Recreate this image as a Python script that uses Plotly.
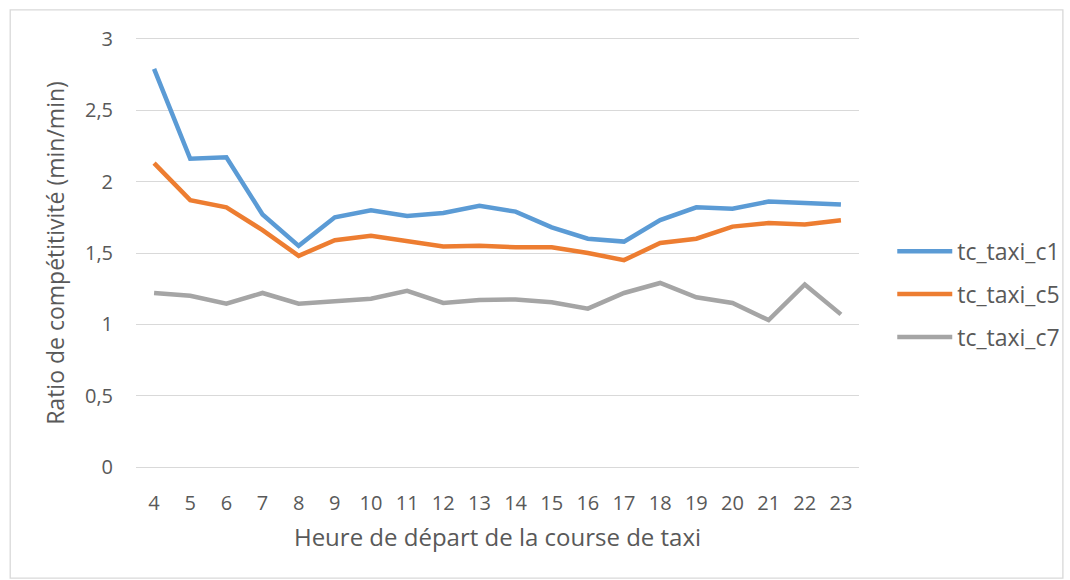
import plotly.graph_objects as go

hours = [str(h) for h in range(4, 24)]

tc_taxi_c1 = [2.79, 2.16, 2.17, 1.77, 1.55, 1.75, 1.80, 1.76, 1.78, 1.83,
              1.79, 1.68, 1.60, 1.58, 1.73, 1.82, 1.81, 1.86, 1.85, 1.84]
tc_taxi_c5 = [2.13, 1.87, 1.82, 1.66, 1.48, 1.59, 1.62, 1.585, 1.545, 1.55,
              1.54, 1.54, 1.50, 1.45, 1.57, 1.60, 1.685, 1.71, 1.70, 1.73]
tc_taxi_c7 = [1.22, 1.20, 1.145, 1.22, 1.145, 1.165, 1.18, 1.235, 1.15, 1.17,
              1.175, 1.155, 1.11, 1.22, 1.29, 1.19, 1.15, 1.03, 1.28, 1.07]

series = [
    ("tc_taxi_c1", tc_taxi_c1, "#5B9BD5"),
    ("tc_taxi_c5", tc_taxi_c5, "#ED7D31"),
    ("tc_taxi_c7", tc_taxi_c7, "#A5A5A5"),
]

font_family = "Open Sans, Noto Sans, sans-serif"
text_color = "#595959"

fig = go.Figure()
for name, values, color in series:
    fig.add_trace(go.Scatter(
        x=hours, y=values, name=name, mode="lines",
        legendgroup=name,
        line=dict(color=color, width=4.5),
    ))

fig.update_layout(
    width=1070, height=580,
    margin=dict(l=136, r=211, t=36, b=110, autoexpand=False),
    paper_bgcolor="white", plot_bgcolor="white",
    font=dict(family=font_family, color=text_color, size=20),
    showlegend=True,
    legend=dict(
        x=1.046, y=0.405, xanchor="left", yanchor="middle",
        font=dict(size=23, color=text_color),
        itemwidth=55,
        tracegroupgap=10,
        bgcolor="rgba(0,0,0,0)",
    ),
    xaxis=dict(
        type="category",
        range=[-0.5, 19.5],
        showgrid=False, zeroline=False,
        showline=False, ticks="",
        tickfont=dict(size=20, color=text_color),
        ticklabelstandoff=19,
        title=dict(text="Heure de départ de la course de taxi",
                   font=dict(size=24, color=text_color), standoff=14),
    ),
    yaxis=dict(
        range=[-0.02, 3.02],
        tickvals=[0, 0.5, 1, 1.5, 2, 2.5, 3],
        ticktext=["0", "0,5", "1", "1,5", "2", "2,5", "3"],
        showgrid=True, gridcolor="#D9D9D9", gridwidth=1.3,
        zeroline=False, showline=False, ticks="",
        tickfont=dict(size=20, color=text_color),
        ticklabelstandoff=22,
        title=dict(text="Ratio de compétitivité (min/min)",
                   font=dict(size=23, color=text_color), standoff=13),
    ),
    shapes=[dict(
        type="rect", xref="paper", yref="paper",
        x0=-0.174, x1=1.282, y0=-0.249, y1=1.06,
        line=dict(color="#D9D9D9", width=1.3), fillcolor="rgba(0,0,0,0)",
        layer="below",
    )],
)

fig.write_html("out.html")
